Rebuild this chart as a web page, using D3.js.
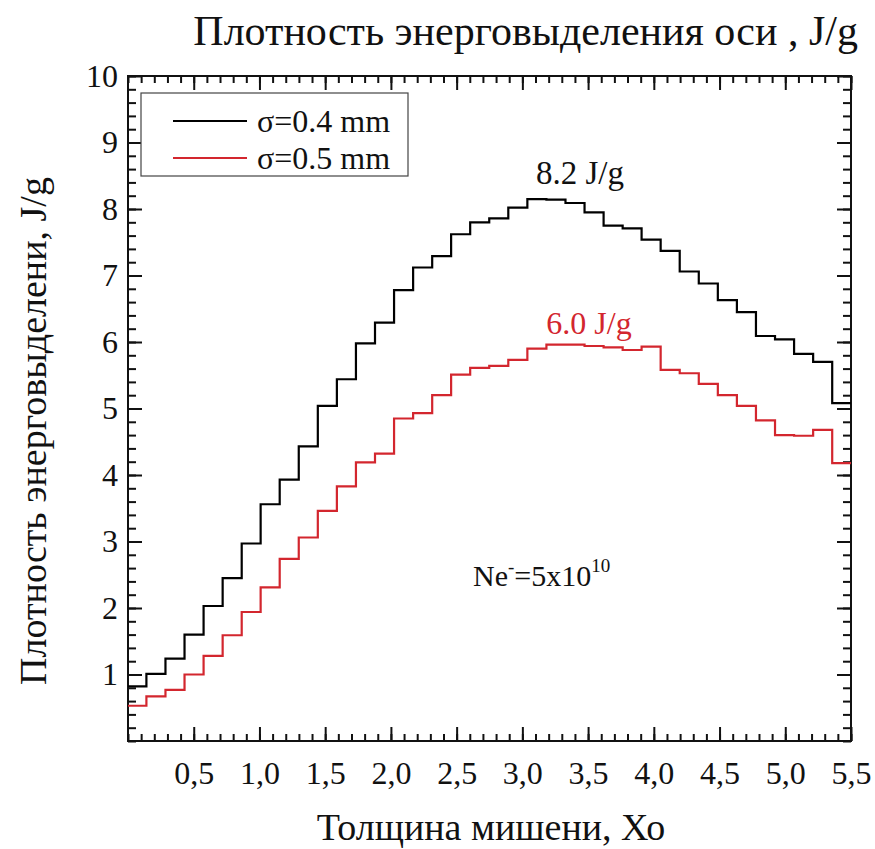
<!DOCTYPE html>
<html>
<head>
<meta charset="utf-8">
<script src="https://cdn.jsdelivr.net/npm/d3@7/dist/d3.min.js"></script>
<style>
  body { margin: 0; background: #fff; }
  text { font-family: "Liberation Serif", "Times New Roman", serif; fill: #111; }
</style>
</head>
<body>
<svg id="chart" width="875" height="849"></svg>
<script>
// left edge of each histogram bin (Xo), last bin ends at binEnd
const binStarts = [0, 0.14, 0.285, 0.43, 0.575, 0.72, 0.865, 1.009, 1.154, 1.299,
    1.444, 1.589, 1.734, 1.879, 2.024, 2.169, 2.314, 2.458, 2.603, 2.748,
    2.893, 3.038, 3.183, 3.328, 3.473, 3.618, 3.763, 3.907, 4.052, 4.197,
    4.342, 4.487, 4.632, 4.777, 4.922, 5.067, 5.212, 5.357];
const binEnd = 5.5;

// energy density, J/g
const sigma04 = [0.82, 1.01, 1.24, 1.60, 2.03, 2.45, 2.97, 3.56, 3.93, 4.43,
    5.04, 5.44, 5.98, 6.29, 6.78, 7.12, 7.29, 7.62, 7.80, 7.86,
    8.02, 8.15, 8.14, 8.09, 7.95, 7.75, 7.71, 7.54, 7.37, 7.06,
    6.88, 6.63, 6.45, 6.09, 6.04, 5.82, 5.70, 5.08];
const sigma05 = [0.53, 0.67, 0.77, 1.00, 1.28, 1.59, 1.94, 2.31, 2.74, 3.06,
    3.46, 3.83, 4.19, 4.32, 4.85, 4.93, 5.20, 5.51, 5.61, 5.64,
    5.73, 5.90, 5.96, 5.96, 5.94, 5.92, 5.88, 5.93, 5.58, 5.53,
    5.37, 5.20, 5.04, 4.82, 4.60, 4.59, 4.68, 4.18];

const seriesNames = ['σ=0.4 mm', 'σ=0.5 mm'];
const seriesColors = ['#000000', '#d3262e'];
const xTicks = [0.5, 1.0, 1.5, 2.0, 2.5, 3.0, 3.5, 4.0, 4.5, 5.0, 5.5];
const yTicks = [1, 2, 3, 4, 5, 6, 7, 8, 9, 10];

const svg = d3.select('#chart');
const plotLeft = 128, plotRight = 851, plotTop = 76, plotBottom = 741;

const x = d3.scaleLinear().domain([0, 5.5]).range([plotLeft, plotRight]);
const y = d3.scaleLinear().domain([0, 10]).range([plotBottom, plotTop]);

const xMinor = d3.range(0, 5.51, 0.1);
const yMinor = d3.range(0, 10.01, 0.2);

function axisGroup(axis, tx, ty, labels) {
    const g = svg.append('g').attr('transform', `translate(${tx},${ty})`).call(axis);
    g.select('.domain').remove();
    g.selectAll('line').attr('stroke', '#111').attr('stroke-width', 2);
    if (!labels) g.selectAll('text').remove();
    return g;
}

// minor ticks, all four sides
axisGroup(d3.axisBottom(x).tickValues(xMinor).tickSize(-7).tickFormat(''), 0, plotBottom, false);
axisGroup(d3.axisTop(x).tickValues(xMinor).tickSize(-7).tickFormat(''), 0, plotTop, false);
axisGroup(d3.axisLeft(y).tickValues(yMinor).tickSize(-8).tickFormat(''), plotLeft, 0, false);
axisGroup(d3.axisRight(y).tickValues(yMinor).tickSize(-8).tickFormat(''), plotRight, 0, false);

// major ticks
const gx = axisGroup(d3.axisBottom(x).tickValues(xTicks).tickSize(-14)
    .tickPadding(20).tickFormat((d) => d.toFixed(1).replace('.', ',')), 0, plotBottom, true);
gx.selectAll('text').attr('font-size', 32);
axisGroup(d3.axisTop(x).tickValues(xTicks).tickSize(-14), 0, plotTop, false);

const gy = axisGroup(d3.axisLeft(y).tickValues(yTicks).tickSize(-14)
    .tickPadding(10).tickFormat(d3.format('d')), plotLeft, 0, true);
gy.selectAll('text').attr('font-size', 32);
axisGroup(d3.axisRight(y).tickValues(yTicks).tickSize(-14), plotRight, 0, false);

// frame
svg.append('rect')
    .attr('x', plotLeft).attr('y', plotTop)
    .attr('width', plotRight - plotLeft).attr('height', plotBottom - plotTop)
    .attr('fill', 'none').attr('stroke', '#111').attr('stroke-width', 2);

// step curves
const line = d3.line()
    .x((d) => x(d[0]))
    .y((d) => y(d[1]))
    .curve(d3.curveStepAfter);

[sigma04, sigma05].forEach((vals, i) => {
    const pts = binStarts.map((b, j) => [b, vals[j]]);
    pts.push([binEnd, vals[vals.length - 1]]);
    svg.append('path')
        .attr('d', line(pts))
        .attr('fill', 'none')
        .attr('stroke', seriesColors[i])
        .attr('stroke-width', 2.2);
});

// legend
const legend = svg.append('g');
legend.append('rect')
    .attr('x', 141).attr('y', 93).attr('width', 267).attr('height', 83)
    .attr('fill', '#fff').attr('stroke', '#444').attr('stroke-width', 1.2);
seriesNames.forEach((name, i) => {
    const ly = 121 + i * 37;
    legend.append('line')
        .attr('x1', 173).attr('x2', 247).attr('y1', ly).attr('y2', ly)
        .attr('stroke', seriesColors[i]).attr('stroke-width', 2.2);
    legend.append('text')
        .attr('x', 257).attr('y', ly + 11)
        .attr('font-size', 32)
        .text(name);
});

// annotations
svg.append('text')
    .attr('x', 580).attr('y', 184).attr('text-anchor', 'middle')
    .attr('font-size', 33)
    .text('8.2 J/g');
svg.append('text')
    .attr('x', 589).attr('y', 334).attr('text-anchor', 'middle')
    .attr('font-size', 32).style('fill', seriesColors[1])
    .text('6.0 J/g');

const ne = svg.append('text').attr('x', 473).attr('y', 586).attr('font-size', 30);
ne.append('tspan').text('Ne');
ne.append('tspan').attr('dy', -13).attr('font-size', 19).text('-');
ne.append('tspan').attr('dy', 13).text('=5x10');
ne.append('tspan').attr('dy', -14).attr('font-size', 19).text('10');

// titles
svg.append('text')
    .attr('x', 858).attr('y', 45).attr('text-anchor', 'end')
    .attr('font-size', 42)
    .text('Плотность энерговыделения оси , J/g');

svg.append('text')
    .attr('x', 491).attr('y', 840).attr('text-anchor', 'middle')
    .attr('font-size', 38)
    .text('Толщина мишени, Хо');

svg.append('text')
    .attr('transform', 'translate(46,431) rotate(-90)')
    .attr('text-anchor', 'middle')
    .attr('font-size', 38)
    .text('Плотность энерговыделени, J/g');
</script>
</body>
</html>
